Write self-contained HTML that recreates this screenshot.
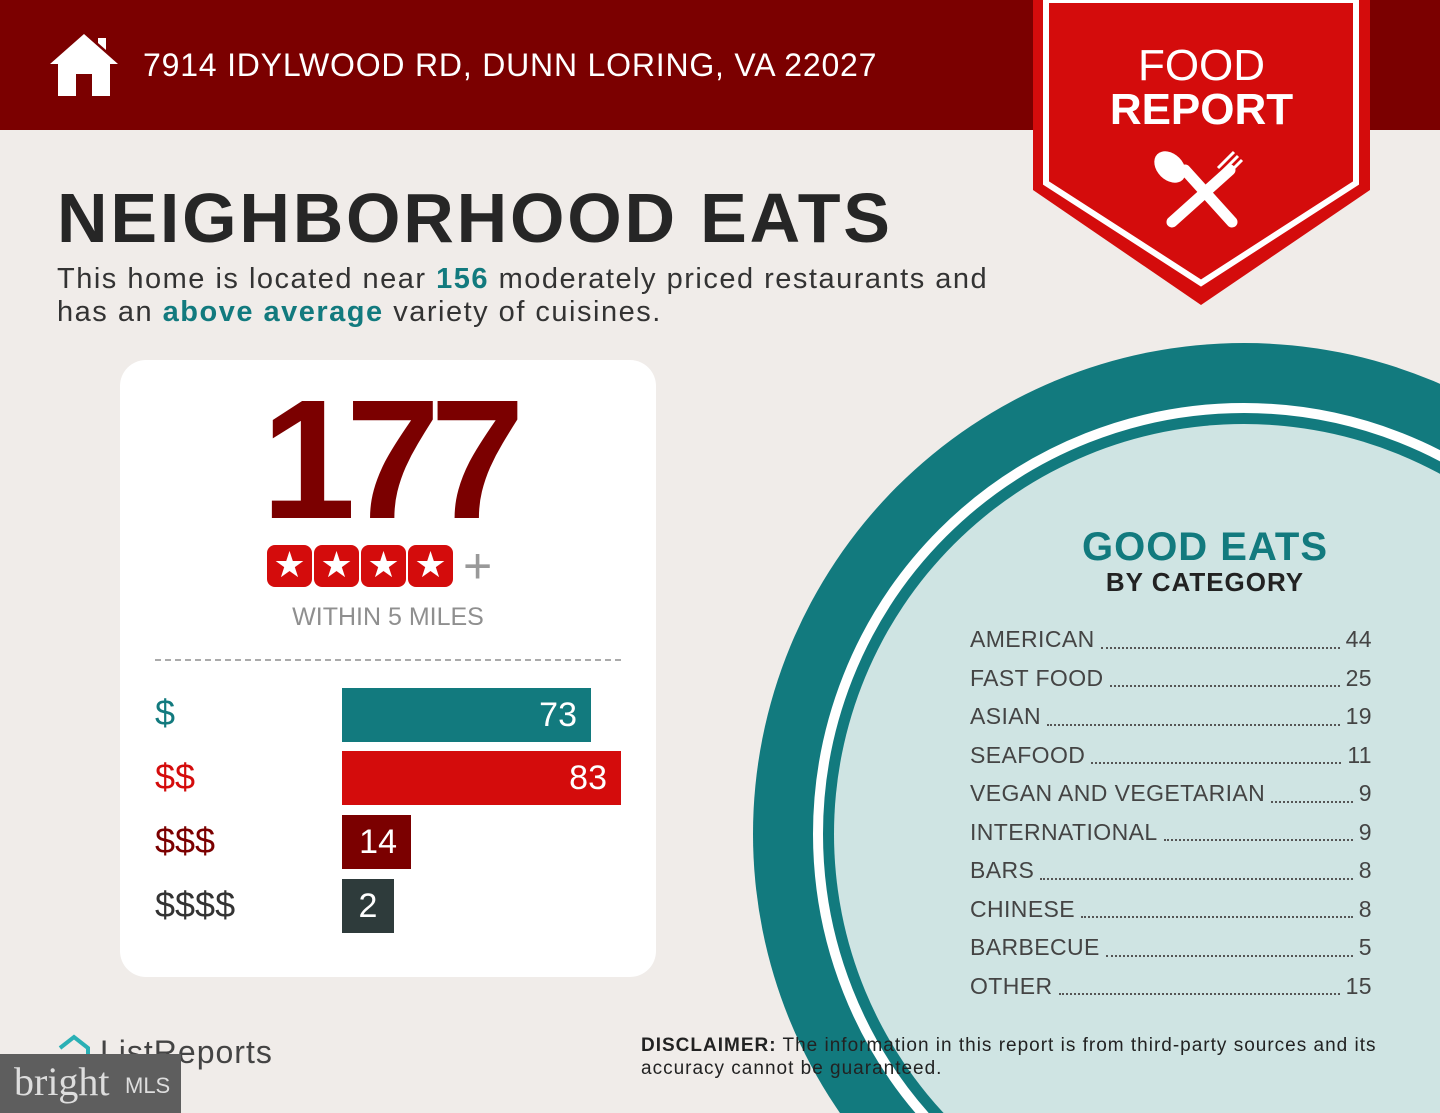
<!DOCTYPE html>
<html><head><meta charset="utf-8"><style>
*{margin:0;padding:0;box-sizing:border-box}
html,body{width:1440px;height:1113px;overflow:hidden}
body{background:#f0ece9;font-family:"Liberation Sans",sans-serif;position:relative}
.abs{position:absolute}
.star{width:45px;height:42px;background:#d40c0c;border-radius:8px;color:#fff;font-size:36px;text-align:center;line-height:42px;font-family:"DejaVu Sans",sans-serif}
.row{display:flex}
.dots{flex:1;border-bottom:2px dotted #555;margin:0 6px 10px}
</style></head><body>
<div class="abs" style="left:0;top:0;width:1440px;height:130px;background:#7b0000"></div>
<svg class="abs" style="left:48px;top:30px" width="72" height="70" viewBox="0 0 72 70"><path d="M36 4 L70 34 L62 34 L62 66 L44 66 L44 44 L28 44 L28 66 L10 66 L10 34 L2 34 Z M50 8 L58 8 L58 20 L50 13Z" fill="#fff"/></svg>
<div class="abs" style="left:143px;top:47px;color:#fff;font-size:32px;letter-spacing:0.8px">7914 IDYLWOOD RD, DUNN LORING, VA 22027</div>
<svg class="abs" style="left:0;top:0" width="1440" height="1113">
<polygon points="1033,0 1370,0 1370,190 1201,305 1033,190" fill="#d40c0c"/>
<polygon points="1046,0 1356,0 1356,183 1201,283 1046,183" fill="none" stroke="#fff" stroke-width="6"/>
<circle cx="1244" cy="834" r="491" fill="#127a7e"/>
<circle cx="1244" cy="834" r="426" fill="none" stroke="#fff" stroke-width="10"/>
<circle cx="1244" cy="834" r="410" fill="#cfe4e3"/>
<g stroke="#fff" stroke-width="11" stroke-linecap="round"><line x1="1172" y1="222" x2="1230" y2="170"/><line x1="1185" y1="170" x2="1232" y2="222"/></g>
<ellipse cx="1170" cy="167" rx="13" ry="18" transform="rotate(-45 1170 167)" fill="#fff"/>
<path d="M1218 168 l16 -16 M1222 172 l16 -16 M1226 176 l16 -16" stroke="#fff" stroke-width="3"/>
</svg>
<div class="abs" style="left:1033px;top:44px;width:337px;text-align:center;color:#fff;font-size:44px;line-height:44px">FOOD<br><b>REPORT</b></div>
<div class="abs" style="left:57px;top:178px;font-size:70px;font-weight:bold;color:#262626;letter-spacing:2.8px">NEIGHBORHOOD EATS</div>
<div class="abs" style="left:57px;top:263px;font-size:29px;color:#333;line-height:33px;letter-spacing:1.5px">This home is located near <b style="color:#127a7e">156</b> moderately priced restaurants and<br>has an <b style="color:#127a7e">above average</b> variety of cuisines.</div>
<div class="abs" style="left:120px;top:360px;width:536px;height:617px;background:#fff;border-radius:26px"></div>
<div class="abs" style="left:120px;top:370px;width:536px;text-align:center;font-size:170px;font-weight:bold;color:#7b0000;letter-spacing:-10px;line-height:180px">177</div>
<div class="abs" style="left:267px;top:545px;display:flex">
<div class="star" style="margin-right:2px">★</div><div class="star" style="margin-right:2px">★</div><div class="star" style="margin-right:2px">★</div><div class="star">★</div>
<div style="font-size:50px;color:#999;line-height:42px;margin-left:10px">+</div></div>
<div class="abs" style="left:120px;top:603px;width:536px;text-align:center;font-size:25px;color:#8f8f8f">WITHIN 5 MILES</div>
<div class="abs" style="left:155px;top:659px;width:466px;border-top:2px dashed #aaa"></div>
<div class="abs" style="left:155px;top:692px;font-size:36px;color:#127a7e">$</div>
<div class="abs" style="left:155px;top:756px;font-size:36px;color:#d40c0c">$$</div>
<div class="abs" style="left:155px;top:820px;font-size:36px;color:#7b0000">$$$</div>
<div class="abs" style="left:155px;top:884px;font-size:36px;color:#333">$$$$</div>
<div class="abs" style="left:342px;top:688px;width:249px;height:54px;background:#127a7e;color:#fff;font-size:34px;text-align:right;padding-right:14px;line-height:54px">73</div>
<div class="abs" style="left:342px;top:751px;width:279px;height:54px;background:#d40c0c;color:#fff;font-size:34px;text-align:right;padding-right:14px;line-height:54px">83</div>
<div class="abs" style="left:342px;top:815px;width:69px;height:54px;background:#7b0000;color:#fff;font-size:34px;text-align:right;padding-right:14px;line-height:54px">14</div>
<div class="abs" style="left:342px;top:879px;width:52px;height:54px;background:#2e3b3b;color:#fff;font-size:34px;text-align:center;line-height:54px">2</div>
<div class="abs" style="left:1020px;top:525px;width:370px;text-align:center;color:#127a7e;font-size:40px;font-weight:bold;letter-spacing:1px">GOOD EATS</div>
<div class="abs" style="left:1020px;top:567px;width:370px;text-align:center;color:#222;font-size:26px;font-weight:bold;letter-spacing:1px">BY CATEGORY</div>
<div class="abs" style="left:970px;top:620px;width:402px;font-size:23px;color:#444;line-height:38.5px;letter-spacing:0.4px">
<div class="row"><span>AMERICAN</span><span class="dots"></span><span>44</span></div>
<div class="row"><span>FAST FOOD</span><span class="dots"></span><span>25</span></div>
<div class="row"><span>ASIAN</span><span class="dots"></span><span>19</span></div>
<div class="row"><span>SEAFOOD</span><span class="dots"></span><span>11</span></div>
<div class="row"><span>VEGAN AND VEGETARIAN</span><span class="dots"></span><span>9</span></div>
<div class="row"><span>INTERNATIONAL</span><span class="dots"></span><span>9</span></div>
<div class="row"><span>BARS</span><span class="dots"></span><span>8</span></div>
<div class="row"><span>CHINESE</span><span class="dots"></span><span>8</span></div>
<div class="row"><span>BARBECUE</span><span class="dots"></span><span>5</span></div>
<div class="row"><span>OTHER</span><span class="dots"></span><span>15</span></div>
</div>
<div class="abs" style="left:641px;top:1034px;font-size:19px;color:#222;line-height:23px;letter-spacing:1px"><b>DISCLAIMER:</b> The information in this report is from third-party sources and its<br>accuracy cannot be guaranteed.</div>
<svg class="abs" style="left:56px;top:1034px" width="36" height="30"><path d="M4 14 L18 3 L32 14 L32 28" fill="none" stroke="#2ab0b5" stroke-width="4"/></svg>
<div class="abs" style="left:100px;top:1034px;font-size:32px;color:#444;letter-spacing:1px">ListReports</div>
<div class="abs" style="left:0;top:1054px;width:181px;height:59px;background:#5e5e5e"></div>
<div class="abs" style="left:14px;top:1058px;font-family:'Liberation Serif',serif;font-size:40px;color:#ddd">bright</div>
<div class="abs" style="left:125px;top:1073px;font-size:22px;color:#ddd">MLS</div>
</body></html>
